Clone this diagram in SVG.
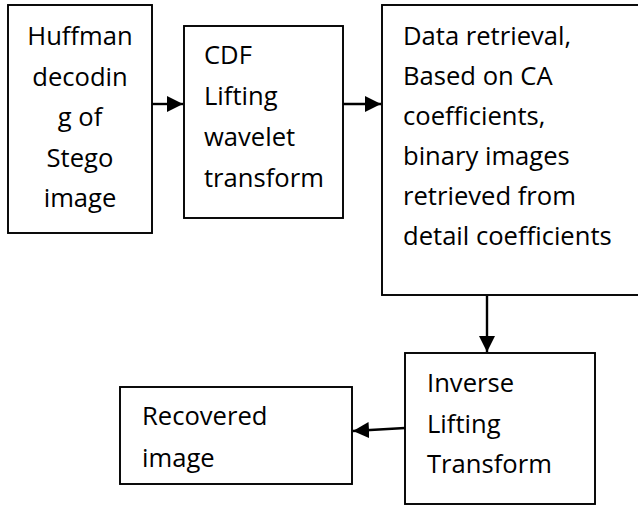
<svg xmlns="http://www.w3.org/2000/svg" width="638" height="506" viewBox="0 0 638 506">
  <style>
    .box { fill: #ffffff; stroke: #000000; stroke-width: 1.9; }
    .lbl { font-family: "Open Sans", "Noto Sans", "Liberation Sans", sans-serif; font-size: 25.6px; fill: #000000; }
    .mid { text-anchor: middle; }
    .edge { stroke: #000000; stroke-width: 2.4; fill: none; marker-end: url(#head); }
  </style>
  <defs>
    <marker id="head" markerUnits="userSpaceOnUse" markerWidth="16" markerHeight="16" refX="16" refY="8" orient="auto">
      <path d="M0,0 L16,8 L0,16 z" fill="#000000"/>
    </marker>
  </defs>
  <rect width="638" height="506" fill="#ffffff"/>

  <g id="huffman-decoding">
    <rect class="box" x="8" y="5" width="144" height="228"/>
    <text class="lbl mid" x="80" y="45">Huffman</text>
    <text class="lbl mid" x="80" y="85.5">decodin</text>
    <text class="lbl mid" x="80" y="126">g of</text>
    <text class="lbl mid" x="80" y="166.5">Stego</text>
    <text class="lbl mid" x="80" y="207">image</text>
  </g>

  <g id="cdf-lifting">
    <rect class="box" x="184" y="26" width="159" height="192"/>
    <text class="lbl" x="204" y="64">CDF</text>
    <text class="lbl" x="204" y="105">Lifting</text>
    <text class="lbl" x="204" y="146">wavelet</text>
    <text class="lbl" x="204" y="187">transform</text>
  </g>

  <g id="data-retrieval">
    <rect class="box" x="382" y="5" width="262" height="290"/>
    <text class="lbl" x="403" y="45">Data retrieval,</text>
    <text class="lbl" x="403" y="85">Based on CA</text>
    <text class="lbl" x="403" y="125">coefficients,</text>
    <text class="lbl" x="403" y="165">binary images</text>
    <text class="lbl" x="403" y="205">retrieved from</text>
    <text class="lbl" x="403" y="245">detail coefficients</text>
  </g>

  <g id="inverse-lifting">
    <rect class="box" x="405" y="353" width="190" height="151"/>
    <text class="lbl" x="427" y="392">Inverse</text>
    <text class="lbl" x="427" y="433">Lifting</text>
    <text class="lbl" x="427" y="473">Transform</text>
  </g>

  <g id="recovered-image">
    <rect class="box" x="120" y="387" width="232" height="97"/>
    <text class="lbl" x="142" y="425">Recovered</text>
    <text class="lbl" x="142" y="467">image</text>
  </g>

  <g id="connectors">
    <line class="edge" x1="152" y1="104" x2="183" y2="104"/>
    <line class="edge" x1="343" y1="104" x2="381" y2="104"/>
    <line class="edge" x1="487" y1="296" x2="487" y2="352"/>
    <line class="edge" x1="405" y1="428" x2="353" y2="431"/>
  </g>
</svg>
